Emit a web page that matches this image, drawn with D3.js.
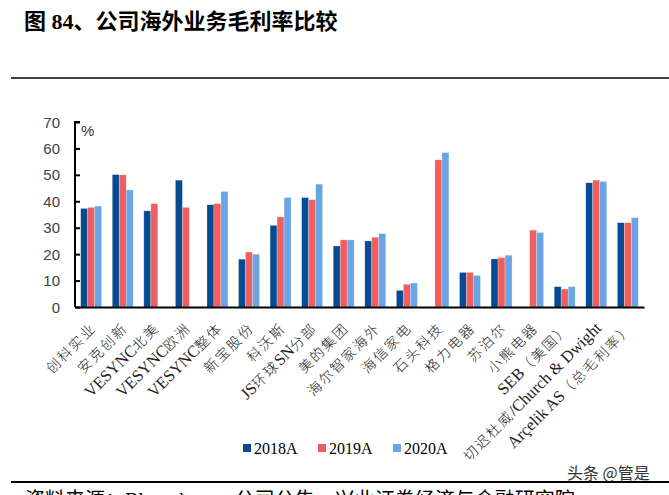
<!DOCTYPE html>
<html><head><meta charset="utf-8">
<script src="https://cdn.jsdelivr.net/npm/d3@7/dist/d3.min.js"></script>
<style>body{margin:0;background:#fff}svg{display:block}</style>
</head><body>
<svg id="c" width="669" height="495"></svg>
<script>
const categories = ["创科实业","安克创新","VESYNC北美","VESYNC欧洲","VESYNC整体","新宝股份","科沃斯","JS环球SN分部","美的集团","海尔智家海外","海信家电","石头科技","格力电器","苏泊尔","小熊电器","SEB（美国）","切迟杜威/Church & Dwight","Arçelik AS（总毛利率）"];
const series = ["2018A","2019A","2020A"];
const v2018 = [37.3,50.1,36.4,48.0,38.7,18.1,30.9,41.4,23.1,25.0,6.3,null,13.1,18.2,null,7.7,47.0,31.9];
const v2019 = [37.7,50.0,39.1,37.7,39.1,20.8,34.1,40.6,25.4,26.4,8.6,55.7,13.1,18.7,29.1,6.8,48.0,31.9];
const v2020 = [38.2,44.3,null,null,43.7,20.0,41.4,46.5,25.4,27.8,9.1,58.4,11.9,19.6,28.2,7.7,47.5,33.8];
const yTicks = [0,10,20,30,40,50,60,70];
const colors = ["#044B94","#EF5F5F","#69A4E4"];

const svg = d3.select("#c");
const values = [v2018, v2019, v2020];
const L = 75, R = 644, T = 122, B = 307;
const x0 = d3.scaleBand().domain(categories).range([L, R]).paddingInner(0.335).paddingOuter(0.18);
const x1 = d3.scaleBand().domain(series).range([0, x0.bandwidth()]);
const y = d3.scaleLinear().domain([0,70]).range([B, T]);

// title
svg.append("text").attr("x",24).attr("y",29)
  .attr("font-family","'Liberation Serif','Noto Sans CJK SC'").attr("font-weight","bold")
  .attr("font-size",22).attr("fill","#000").text("图 84、公司海外业务毛利率比较");
svg.append("line").attr("x1",11).attr("x2",669).attr("y1",78).attr("y2",78).attr("stroke","#000").attr("stroke-width",1.5);

// bars
const g = svg.append("g");
categories.forEach((c,i)=>{
  series.forEach((s,j)=>{
    const v = values[j][i];
    if (v == null) return;
    g.append("rect").attr("x", x0(c)+x1(s)).attr("width", x1.bandwidth())
      .attr("y", y(v)).attr("height", y(0)-y(v)).attr("fill", colors[j])
      .attr("stroke","rgba(255,255,255,0.45)").attr("stroke-width",0.6);
  });
});

// y axis
const ya = svg.append("g").attr("transform",`translate(${L},0)`)
  .call(d3.axisRight(y).tickValues(yTicks).tickSize(5).tickFormat(""));
ya.select(".domain").attr("stroke","#000").attr("stroke-width",2).attr("d",`M5,${T}H0V${B}`);
ya.selectAll(".tick line").attr("stroke","#000").attr("stroke-width",2);
yTicks.forEach(t=>{
  svg.append("text").attr("x",60).attr("y",y(t)+5.5).attr("text-anchor","end")
    .attr("font-family","'Liberation Sans',Arial,sans-serif").attr("font-size",15).attr("fill","#404040").text(t);
});
svg.append("text").attr("x",81).attr("y",136).attr("font-family","'Liberation Sans',Arial,sans-serif")
  .attr("font-size",15).attr("fill","#333").text("%");

// x axis
const xa = svg.append("g").attr("transform",`translate(0,${B})`).call(d3.axisBottom(x0).tickSize(0).tickFormat(""));
xa.select(".domain").attr("stroke","#000").attr("stroke-width",2.2);
const isCJK = ch => /[\u3000-\u9fff\uff00-\uffef]/.test(ch);
categories.forEach(c=>{
  const cx = x0(c) + x0.bandwidth()/2 + 6;
  const t = svg.append("text").attr("transform",`translate(${cx},${B+22}) rotate(-45)`)
    .attr("text-anchor","end").attr("font-family","'Liberation Serif','Noto Sans CJK SC'")
    .attr("fill","#222");
  const runs = [];
  for (const ch of c) {
    const k = isCJK(ch);
    if (runs.length && runs[runs.length-1].k === k) runs[runs.length-1].s += ch;
    else runs.push({k, s: ch});
  }
  runs.forEach(r=>{
    const ts = t.append("tspan").text(r.s);
    if (r.k) ts.attr("font-size",14).attr("letter-spacing",2).attr("font-weight",300);
    else ts.attr("font-size",16.5);
  });
});

// legend
const lx = [243, 318, 393];
series.forEach((s,j)=>{
  svg.append("rect").attr("x",lx[j]).attr("y",444).attr("width",8).attr("height",8).attr("fill",colors[j]);
  svg.append("text").attr("x",lx[j]+11).attr("y",453.5).attr("font-family","'Liberation Serif',serif")
    .attr("font-size",16).attr("fill","#000").text(s);
});

// watermark and footer
svg.append("text").attr("x",567).attr("y",479).attr("font-family","'Noto Sans CJK SC',sans-serif")
  .attr("font-size",16).attr("fill","#333").text("头条 @管是");
svg.append("line").attr("x1",11).attr("x2",669).attr("y1",482).attr("y2",482).attr("stroke","#000").attr("stroke-width",2);
svg.append("text").attr("x",25).attr("y",507).attr("font-family","'Liberation Serif','Noto Sans CJK SC'")
  .attr("font-size",20).attr("fill","#000").text("资料来源：Bloomberg，公司公告，兴业证券经济与金融研究院");
</script>
</body></html>
